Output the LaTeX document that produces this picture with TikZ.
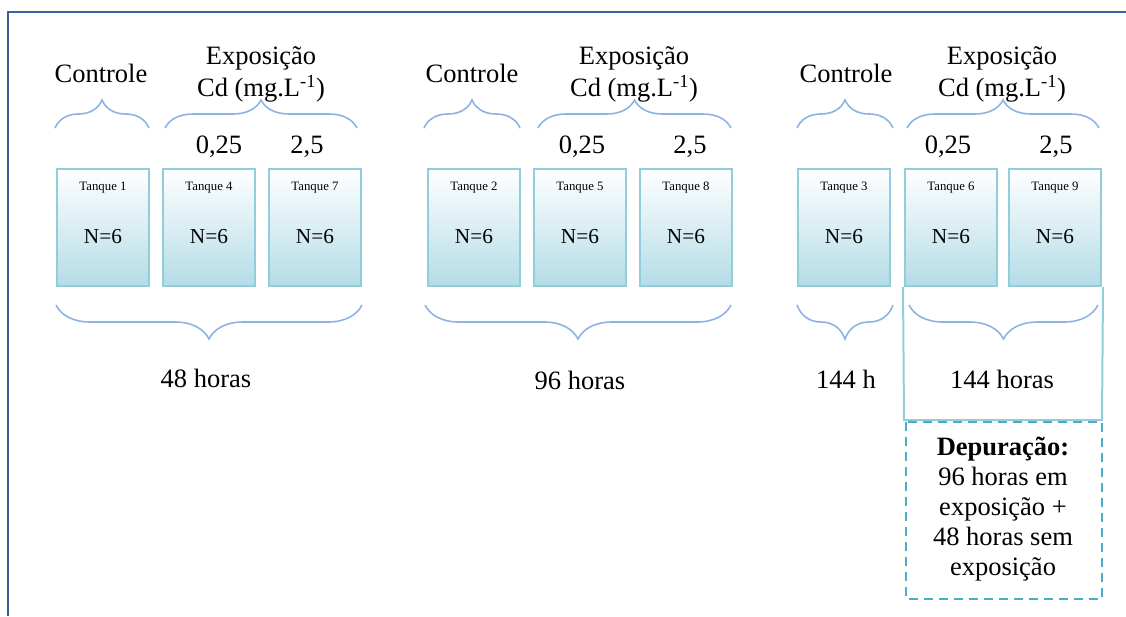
\documentclass[tikz,border=0pt]{standalone}
\usepackage{fontspec}
\setmainfont{Liberation Serif}
\usetikzlibrary{decorations.pathreplacing}
\definecolor{framecol}{RGB}{58,96,158}
\definecolor{tankedge}{RGB}{146,205,220}
\definecolor{tankfill}{RGB}{180,220,231}
\definecolor{tankmid}{RGB}{215,236,242}
\definecolor{bracecol}{RGB}{141,179,226}
\definecolor{dashcol}{RGB}{75,172,198}
\tikzset{
  x=1pt, y=-1pt,
  tank/.style={draw=tankedge, line width=2.2pt, minimum width=92pt, minimum height=117pt,
    inner sep=0pt, top color=white, middle color=tankmid, bottom color=tankfill},
  tanklbl/.style={font=\fontsize{12.8}{14}\selectfont, inner sep=0pt},
  nlbl/.style={font=\fontsize{21.3}{24}\selectfont, inner sep=0pt},
  big/.style={font=\fontsize{26.5}{32}\selectfont, inner sep=0pt, align=center},
  brc/.style={draw=bracecol, line width=1.6pt, decorate},
  topbrace/.style={brc, decoration={brace, amplitude=28pt}},
  botbrace/.style={brc, decoration={brace, amplitude=34pt}},
}
\begin{document}
\begin{tikzpicture}
\useasboundingbox (0,0) rectangle (1126,616);
% outer frame
\draw[framecol, line width=2pt] (8,616) -- (8,12) -- (1126,12);
% tanks
\foreach \n/\x in {1/103,4/209,7/315,2/474,5/580,8/686,3/844,6/951,9/1055}{
  \node[tank] (t\n) at (\x,227.5) {};
  \node[tanklbl] (tl\n) at (\x,188) {Tanque \n};
  \node[nlbl] (n\n) at (\x,237) {N=6};
}
% enclosing frame below tanks 6 and 9
\coordinate (fr1) at (904,420);
\coordinate (fr2) at (1102,420);
\draw[tankedge, line width=2pt] ([xshift=-0.9pt]t6.south west) -- (fr1) -- (fr2) -- ([xshift=0.9pt]t9.south east);
% headers
\foreach \g/\cx/\ex/\za/\zb in {1/101/261/219/307, 2/472/634/582/690, 3/846/1002/948/1056}{
  \node[big] (ctl\g) at (\cx,73) {Controle};
  \node[big] (exp\g) at (\ex,74) {Exposição\\Cd (mg.L\textsuperscript{-1})};
  \node[big] (za\g) at (\za,147) {0,25};
  \node[big] (zb\g) at (\zb,147) {2,5};
}
% top braces
\draw[topbrace] (55,128) -- (149,128);
\draw[topbrace] (165,128) -- (357,128);
\draw[topbrace] (424,128) -- (520,128);
\draw[topbrace] (538,128) -- (731,128);
\draw[topbrace] (797,128) -- (893,128);
\draw[topbrace] (907,128) -- (1099,128);
% bottom braces
\draw[botbrace] (362,305) -- (56,305);
\draw[botbrace] (731,305) -- (425,305);
\draw[botbrace] (893,305) -- (797,305);
\draw[botbrace] (1098,305) -- (909,305);
% durations
\node[big] (h48) at (206,378) {48 horas};
\node[big] (h96) at (580,380) {96 horas};
\node[big] (h144a) at (846,379) {144 h};
\node[big] (h144b) at (1002,379) {144 horas};
% depuration box
\draw[dashcol, line width=2.4pt, dash pattern=on 9pt off 6pt] (906,422) rectangle (1102,599);
\node[big, font=\fontsize{26.5}{30}\selectfont] (dep) at (1003,509)
  {\textbf{Depuração:}\\96 horas em\\exposição +\\48 horas sem\\exposição};
\end{tikzpicture}
\end{document}
